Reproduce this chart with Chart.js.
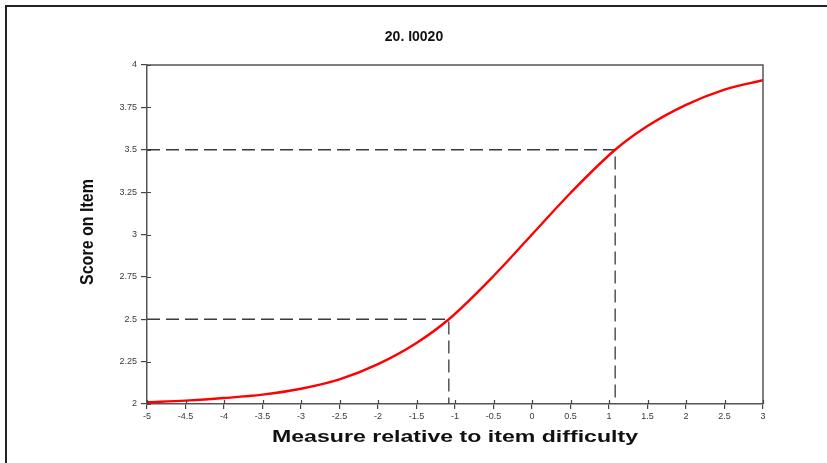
<!DOCTYPE html>
<html>
<head>
<meta charset="utf-8">
<script src="https://cdn.jsdelivr.net/npm/chart.js@4.4.1/dist/chart.umd.min.js"></script>
<style>
html,body{margin:0;padding:0;background:#fff;}
#wrap{width:827px;height:463px;position:relative;}
</style>
</head>
<body>
<div id="wrap"><canvas id="c" width="827" height="463"></canvas></div>
<script>
// ---- data ----
const titleText = "20. I0020";
const xAxisTitle = "Measure relative to item difficulty";
const yAxisTitle = "Score on Item";
const measureX = [-5, -4.5, -4, -3.5, -3, -2.5, -2, -1.5, -1.08, -0.5, 0, 0.5, 1.08, 1.5, 2, 2.5, 3];
const scoreY   = [2.01, 2.02, 2.035, 2.055, 2.09, 2.145, 2.235, 2.36, 2.5, 2.755, 3.0, 3.245, 3.5, 3.64, 3.765, 3.855, 3.91];
const lowMarkX = [-5, -1.08, -1.08];
const lowMarkY = [2.5, 2.5, 2];
const highMarkX = [-5, 1.08, 1.08];
const highMarkY = [3.5, 3.5, 2];
const xMin = -5, xMax = 3, xStep = 0.5;
const yMin = 2, yMax = 4, yStep = 0.25;

const zip = (xs, ys) => xs.map((x, i) => ({x: x, y: ys[i]}));

const decor = {
  id: 'decor',
  beforeDraw(chart) {
    const ctx = chart.ctx;
    ctx.save();
    ctx.fillStyle = '#fff';
    ctx.fillRect(0, 0, chart.width, chart.height);
    ctx.fillStyle = '#222';
    ctx.fillRect(5, 5, 822, 2);
    ctx.fillRect(5, 5, 2, 458);
    ctx.restore();
  },
  afterDraw(chart) {
    const ctx = chart.ctx;
    const a = chart.chartArea;
    const xs = chart.scales.x, ys = chart.scales.y;
    ctx.save();
    ctx.strokeStyle = '#555';
    ctx.lineWidth = 1.5;
    ctx.beginPath();
    ctx.moveTo(a.left, a.top); ctx.lineTo(a.right, a.top); ctx.lineTo(a.right, a.bottom);
    ctx.stroke();
    // inner part of ticks
    ctx.lineWidth = 1.2;
    ctx.strokeStyle = '#444';
    ctx.beginPath();
    xs.ticks.forEach(t => { const p = Math.round(xs.getPixelForValue(t.value)) + 0.5; ctx.moveTo(p, a.bottom); ctx.lineTo(p, a.bottom - 4); });
    ys.ticks.forEach(t => { const p = Math.round(ys.getPixelForValue(t.value)) + 0.5; ctx.moveTo(a.left, p); ctx.lineTo(a.left + 4, p); });
    ctx.stroke();
    // titles
    ctx.fillStyle = '#111';
    ctx.textAlign = 'center';
    ctx.textBaseline = 'middle';
    ctx.font = 'bold 14px "Liberation Sans", Arial, sans-serif';
    ctx.fillText(titleText, 414, 37);
    ctx.font = 'bold 17px "Liberation Sans", Arial, sans-serif';
    let w = ctx.measureText(xAxisTitle).width;
    ctx.save();
    ctx.translate(455, 437);
    ctx.scale(366 / w, 1);
    ctx.fillText(xAxisTitle, 0, 0);
    ctx.restore();
    ctx.font = 'bold 19px "Liberation Sans", Arial, sans-serif';
    w = ctx.measureText(yAxisTitle).width;
    ctx.save();
    ctx.translate(88, 232);
    ctx.rotate(-Math.PI / 2);
    ctx.scale(106 / w, 1);
    ctx.fillText(yAxisTitle, 0, 0);
    ctx.restore();
    ctx.restore();
  }
};

new Chart(document.getElementById('c'), {
  type: 'scatter',
  data: {
    datasets: [
      { data: zip(lowMarkX, lowMarkY), showLine: true, borderColor: '#3a3a3a', borderWidth: 1.3, borderDash: [13, 6], pointRadius: 0, fill: false, order: 2 },
      { data: zip(highMarkX, highMarkY), showLine: true, borderColor: '#3a3a3a', borderWidth: 1.3, borderDash: [13, 6], pointRadius: 0, fill: false, order: 2 },
      { data: zip(measureX, scoreY), showLine: true, borderColor: '#ff0000', borderWidth: 2.4, pointRadius: 0, cubicInterpolationMode: 'monotone', fill: false, order: 1 }
    ]
  },
  options: {
    responsive: false,
    animation: false,
    devicePixelRatio: 1,
    layout: { padding: { top: 65, right: 64, left: 0, bottom: 0 } },
    plugins: { legend: { display: false }, tooltip: { enabled: false }, title: { display: false } },
    scales: {
      x: {
        type: 'linear', min: xMin, max: xMax,
        afterFit: s => { s.height = 59; },
        ticks: { stepSize: xStep, color: '#3a3a3a', font: { family: '"Liberation Sans", Arial, sans-serif', size: 9 }, padding: 2, maxRotation: 0, autoSkip: false, callback: v => String(v) },
        grid: { drawOnChartArea: false, tickLength: 5, color: '#444', lineWidth: 1.2 },
        border: { color: '#555', width: 1.5 }
      },
      y: {
        type: 'linear', min: yMin, max: yMax,
        afterFit: s => { s.width = 147; },
        ticks: { stepSize: yStep, color: '#3a3a3a', font: { family: '"Liberation Sans", Arial, sans-serif', size: 9 }, padding: 4, autoSkip: false, callback: v => String(v) },
        grid: { drawOnChartArea: false, tickLength: 6, color: '#444', lineWidth: 1.2 },
        border: { color: '#555', width: 1.5 }
      }
    }
  },
  plugins: [decor]
});
</script>
</body>
</html>
